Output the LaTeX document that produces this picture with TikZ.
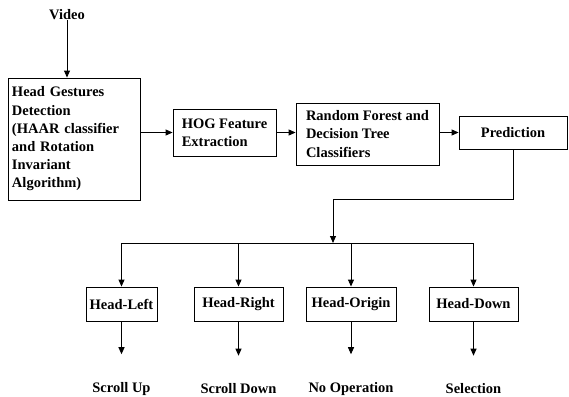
\documentclass[tikz,border=0pt]{standalone}
\usepackage{fontspec}
\setmainfont{Liberation Serif}
\usetikzlibrary{arrows.meta}

\begin{document}
\begin{tikzpicture}[
		x=1pt, y=-1pt,
		>={Triangle[length=7pt,width=6pt]},
		block/.style={
			draw,
			line width=0.9pt,
			inner sep=0pt,
			align=left,
			font=\fontsize{14.5}{18.2}\selectfont\bfseries
		},
		gesture/.style={
			block,
			minimum height=34pt
		},
		lab/.style={
			inner sep=0pt,
			font=\fontsize{14.5}{18.2}\selectfont\bfseries
		},
		flow/.style={->, line width=0.9pt}
		]
		
		\useasboundingbox (0,0) rectangle (569,396);
		
		% Pipeline
		\node[lab] (video) at (67,15) {Video};
		\node[block, minimum width=132pt, minimum height=122pt, text width=124pt] (detect) at (74,139)
		{Head Gestures\\Detection\\(HAAR classifier\\and Rotation\\Invariant\\Algorithm)};
		\node[block, minimum width=103pt, minimum height=47pt] (hog) at (224.5,132.5) {HOG Feature\\Extraction};
		\node[block, minimum width=143pt, minimum height=62pt] (forest) at (367.5,134)
		{Random Forest and\\Decision Tree\\Classifiers};
		\node[block, minimum width=108pt, minimum height=33pt, align=center] (pred) at (513,132.5) {Prediction};
		
		% Gestures
		\node[gesture, minimum width=71pt] (left) at (121.5,304) {Head-Left};
		\node[gesture, minimum width=89pt] (right) at (238.5,304) {Head-Right};
		\node[gesture, minimum width=90pt] (origin) at (351,304) {Head-Origin};
		\node[gesture, minimum width=89pt] (down) at (473.5,304) {Head-Down};
		
		% Actions
		\node[lab] (scrollup) at (121.5,389) {Scroll Up};
		\node[lab] (scrolldown) at (238.5,389) {Scroll Down};
		\node[lab] (noop) at (351,389) {No Operation};
		\node[lab] (select) at (473.5,389) {Selection};
		
		\coordinate (split) at (333,243);
		
		% Pipeline arrows
		\draw[flow] (video.south) -- (video.south |- detect.north);
		\draw[flow] (hog.west -| detect.east) -- (hog.west);
		\draw[flow] (hog.east) -- (hog.east -| forest.west);
		\draw[flow] (forest.east |- pred) -- (pred.west);
		\draw[flow] (pred.south) -- ++(0,50) -| (split);
		
		% Branches
		\draw[line width=0.9pt] (left |- split) -- (down |- split);
		\draw[flow] (left |- split) -- (left.north);
		\draw[flow] (right |- split) -- (right.north);
		\draw[flow] (origin |- split) -- (origin.north);
		\draw[flow] (down |- split) -- (down.north);
		
		% Gesture to action
		\draw[flow, shorten >=28pt] (left.south) -- (scrollup.north);
		\draw[flow, shorten >=28pt] (right.south) -- (scrolldown.north);
		\draw[flow, shorten >=28pt] (origin.south) -- (noop.north);
		\draw[flow, shorten >=28pt] (down.south) -- (select.north);
		
	\end{tikzpicture}
\end{document}
